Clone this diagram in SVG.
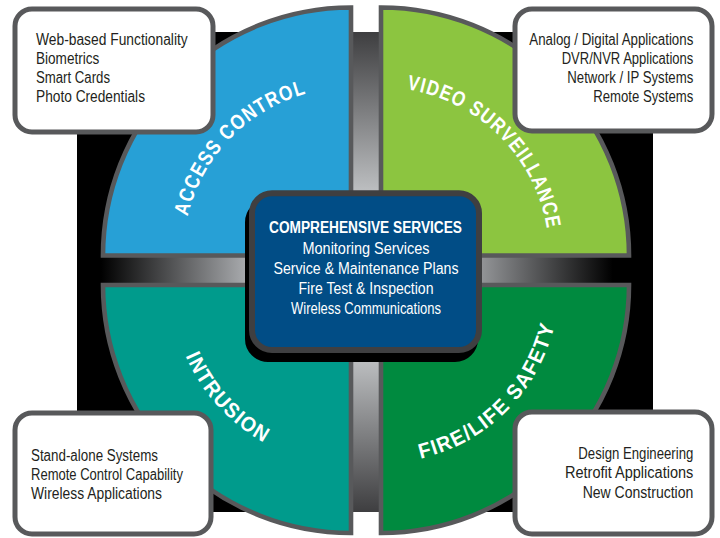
<svg xmlns="http://www.w3.org/2000/svg" xmlns:xlink="http://www.w3.org/1999/xlink" width="720" height="538" viewBox="0 0 720 538">
<style>
.q{stroke:#58595b;stroke-width:4.6;stroke-linejoin:miter}
.lbl{font-family:"Liberation Sans",Arial,sans-serif;font-weight:bold;font-size:21px;letter-spacing:1.5px;fill:#ffffff}
.box{fill:#ffffff;stroke:#58595b;stroke-width:5}
.t{font-family:"Liberation Sans",Arial,sans-serif;font-size:16px;fill:#231f20}
.r{text-anchor:end}
.m{text-anchor:middle}
.c{font-family:"Liberation Sans",Arial,sans-serif;font-size:16px;fill:#ffffff;text-anchor:middle}
.ch{font-family:"Liberation Sans",Arial,sans-serif;font-size:16px;font-weight:bold;fill:#ffffff;text-anchor:middle}
</style>
<defs>
<linearGradient id="hg" gradientUnits="userSpaceOnUse" x1="78" y1="0" x2="653" y2="0">
<stop offset="0" stop-color="#000"/>
<stop offset="0.04" stop-color="#000"/>
<stop offset="0.29" stop-color="#a7a9ac"/>
<stop offset="0.67" stop-color="#a7a9ac"/>
<stop offset="0.93" stop-color="#000"/>
<stop offset="1" stop-color="#000"/>
</linearGradient>
<linearGradient id="vg" gradientUnits="userSpaceOnUse" x1="0" y1="32" x2="0" y2="512">
<stop offset="0" stop-color="#3e3e40"/>
<stop offset="0.33" stop-color="#bcbec0"/>
<stop offset="0.685" stop-color="#bcbec0"/>
<stop offset="1" stop-color="#3e3e40"/>
</linearGradient>
<path id="pAC" d="M183,255.5 A168,168 0 0 1 351,87.5"/>
<path id="pVS" d="M381,87.5 A168,168 0 0 1 549,255.5"/>
<path id="pIN" d="M171,285 A180,180 0 0 0 351,465"/>
<path id="pFL" d="M381,463 A178,178 0 0 0 559,285"/>
</defs>

<rect id="backdrop" x="77" y="32" width="576" height="480" fill="#000"/>

<g id="connectors">
<rect x="78" y="257" width="575" height="26" fill="url(#hg)"/>
<rect x="353" y="32" width="26" height="480" fill="url(#vg)"/>
</g>

<g id="access-control">
<path class="q" d="M351,255.5 H103 A248,248 0 0 1 351,7.5 Z" fill="#27a0d6"/>
<text class="lbl"><textPath xlink:href="#pAC" href="#pAC" startOffset="49%" text-anchor="middle" textLength="180" lengthAdjust="spacingAndGlyphs">ACCESS CONTROL</textPath></text>
</g>
<g id="video-surveillance">
<path class="q" d="M381,255.5 V7.5 A248,248 0 0 1 629,255.5 Z" fill="#8cc540"/>
<text class="lbl"><textPath xlink:href="#pVS" href="#pVS" startOffset="50%" text-anchor="middle" textLength="212" lengthAdjust="spacingAndGlyphs">VIDEO SURVEILLANCE</textPath></text>
</g>
<g id="intrusion">
<path class="q" d="M351,285 H103 A248,248 0 0 0 351,533 Z" fill="#009b8c"/>
<text class="lbl"><textPath xlink:href="#pIN" href="#pIN" startOffset="47%" text-anchor="middle" textLength="120" lengthAdjust="spacingAndGlyphs">INTRUSION</textPath></text>
</g>
<g id="fire-life-safety">
<path class="q" d="M381,285 V533 A248,248 0 0 0 629,285 Z" fill="#008a3f"/>
<text class="lbl"><textPath xlink:href="#pFL" href="#pFL" startOffset="50%" text-anchor="middle" textLength="200" lengthAdjust="spacingAndGlyphs">FIRE/LIFE SAFETY</textPath></text>
</g>

<g id="comprehensive-services">
<rect x="248" y="202.3" width="227" height="156.7" rx="20" fill="#000" stroke="#000" stroke-width="6"/>
<rect x="252" y="193.3" width="227" height="156.7" rx="20" fill="#014d86" stroke="#3f3f41" stroke-width="6"/>
<text class="ch" x="365.5" y="233" textLength="193" lengthAdjust="spacingAndGlyphs">COMPREHENSIVE SERVICES</text>
<text class="c" x="366" y="254" textLength="127" lengthAdjust="spacingAndGlyphs">Monitoring Services</text>
<text class="c" x="366" y="274" textLength="185" lengthAdjust="spacingAndGlyphs">Service &amp; Maintenance Plans</text>
<text class="c" x="366" y="294" textLength="135" lengthAdjust="spacingAndGlyphs">Fire Test &amp; Inspection</text>
<text class="c" x="366" y="314" textLength="150" lengthAdjust="spacingAndGlyphs">Wireless Communications</text>
</g>

<g id="access-control-features">
<rect class="box" x="15" y="9" width="198" height="123" rx="17"/>
<text class="t" x="36" y="45" textLength="151.7" lengthAdjust="spacingAndGlyphs">Web-based Functionality</text>
<text class="t" x="36" y="64.3" textLength="63.3" lengthAdjust="spacingAndGlyphs">Biometrics</text>
<text class="t" x="36" y="83.3" textLength="74" lengthAdjust="spacingAndGlyphs">Smart Cards</text>
<text class="t" x="36" y="102.3" textLength="109" lengthAdjust="spacingAndGlyphs">Photo Credentials</text>
</g>

<g id="video-surveillance-features">
<rect class="box" x="515" y="9" width="197" height="122" rx="17"/>
<text class="t r" x="693.3" y="45" textLength="164" lengthAdjust="spacingAndGlyphs">Analog / Digital Applications</text>
<text class="t r" x="693.3" y="64.3" textLength="131.6" lengthAdjust="spacingAndGlyphs">DVR/NVR Applications</text>
<text class="t r" x="693.3" y="83.3" textLength="126" lengthAdjust="spacingAndGlyphs">Network / IP Systems</text>
<text class="t r" x="693.3" y="102.3" textLength="100" lengthAdjust="spacingAndGlyphs">Remote Systems</text>
</g>

<g id="intrusion-features">
<rect class="box" x="15" y="413" width="196" height="121" rx="17"/>
<text class="t" x="31" y="460.5" textLength="127" lengthAdjust="spacingAndGlyphs">Stand-alone Systems</text>
<text class="t" x="31" y="479.5" textLength="152" lengthAdjust="spacingAndGlyphs">Remote Control Capability</text>
<text class="t" x="31" y="498.5" textLength="131" lengthAdjust="spacingAndGlyphs">Wireless Applications</text>
</g>

<g id="fire-life-safety-features">
<rect class="box" x="515" y="412" width="197" height="122" rx="17"/>
<text class="t r" x="693.3" y="459" textLength="115" lengthAdjust="spacingAndGlyphs">Design Engineering</text>
<text class="t r" x="693.3" y="478.3" textLength="128.3" lengthAdjust="spacingAndGlyphs">Retrofit Applications</text>
<text class="t r" x="693.3" y="498" textLength="110.6" lengthAdjust="spacingAndGlyphs">New Construction</text>
</g>
</svg>
